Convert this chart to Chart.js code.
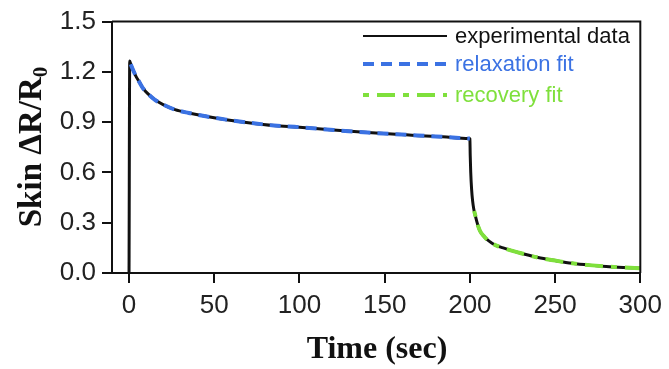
<!DOCTYPE html>
<html>
<head>
<meta charset="utf-8">
<script src="https://cdn.jsdelivr.net/npm/chart.js@4.4.1/dist/chart.umd.min.js"></script>
<style>
  html, body { margin: 0; padding: 0; background: #fff; }
  #wrap { width: 669px; height: 369px; }
</style>
</head>
<body>
<div id="wrap"><canvas id="chart" width="669" height="369"></canvas></div>
<script>
// data
const xTicks = [0, 50, 100, 150, 200, 250, 300];
const yTicks = [0, 0.3, 0.6, 0.9, 1.2, 1.5];

const expTime = [0, 0.4, 1, 2, 4, 6, 8, 11, 15, 20, 27, 35, 45, 57, 70, 85, 100, 120, 140, 160, 180, 199.6,
                 200, 200.2, 200.5, 201, 201.6, 202.3, 203, 204, 205, 206, 208, 210, 213, 216, 220, 225, 230,
                 240, 250, 260, 270, 280, 290, 300];
const expVal  = [0, 1.265, 1.245, 1.22, 1.175, 1.14, 1.105, 1.07, 1.035, 1.005, 0.975, 0.955, 0.935, 0.915, 0.897, 0.88, 0.87, 0.853, 0.838, 0.826, 0.815, 0.803,
                 0.80, 0.70, 0.60, 0.50, 0.43, 0.38, 0.35, 0.31, 0.275, 0.25, 0.222, 0.2, 0.178, 0.162, 0.148, 0.132, 0.118,
                 0.092, 0.074, 0.058, 0.047, 0.039, 0.033, 0.028];

const relaxTime = [1, 2, 4, 6, 8, 11, 15, 20, 27, 35, 45, 57, 70, 85, 100, 120, 140, 160, 180, 200];
const relaxVal  = [1.245, 1.22, 1.175, 1.14, 1.105, 1.07, 1.035, 1.005, 0.975, 0.955, 0.935, 0.915, 0.897, 0.88, 0.87, 0.853, 0.838, 0.826, 0.815, 0.802];

const recTime = [202.5, 203, 204, 205, 206, 208, 210, 213, 216, 220, 225, 230, 240, 250, 260, 270, 280, 290, 300];
const recVal  = [0.37, 0.35, 0.31, 0.275, 0.25, 0.222, 0.2, 0.178, 0.162, 0.148, 0.132, 0.118, 0.092, 0.074, 0.058, 0.047, 0.039, 0.033, 0.028];

const seriesNames = ['experimental data', 'relaxation fit', 'recovery fit'];

const BLACK = '#111111', BLUE = '#3b72e3', GREEN = '#7fe03c';
const pts = (xs, ys) => xs.map((x, i) => ({ x: x, y: ys[i] }));

// frame, legend and the two axis titles
const extras = {
  id: 'extras',
  afterDraw(chart) {
    const ctx = chart.ctx, a = chart.chartArea;
    ctx.save();
    ctx.strokeStyle = BLACK;
    ctx.lineWidth = 2;
    ctx.beginPath();
    ctx.moveTo(a.left, a.top);
    ctx.lineTo(a.right, a.top);
    ctx.lineTo(a.right, a.bottom);
    ctx.stroke();

    // legend
    const items = [
      { y: 36, color: BLACK, dash: [], text: seriesNames[0], tc: BLACK },
      { y: 64, color: BLUE, dash: [11, 7], text: seriesNames[1], tc: BLUE },
      { y: 95, color: GREEN, dash: [6, 8, 18, 8], text: seriesNames[2], tc: GREEN }
    ];
    ctx.font = '22px "Liberation Sans", Arial, sans-serif';
    ctx.textBaseline = 'middle';
    items.forEach(it => {
      ctx.beginPath();
      ctx.setLineDash(it.dash);
      ctx.strokeStyle = it.color;
      ctx.lineWidth = it.dash.length ? 4 : 2;
      ctx.moveTo(363, it.y);
      ctx.lineTo(447, it.y);
      ctx.stroke();
      ctx.fillStyle = it.tc;
      ctx.fillText(it.text, 455, it.y + 1);
    });
    ctx.setLineDash([]);

    // x title
    ctx.fillStyle = BLACK;
    ctx.font = 'bold 32px "Liberation Serif", "Times New Roman", serif';
    ctx.textAlign = 'center';
    ctx.textBaseline = 'alphabetic';
    ctx.fillText('Time (sec)', 377, 358);

    // y title with subscript
    ctx.translate(41, 147);
    ctx.rotate(-Math.PI / 2);
    const main = 'Skin \u0394R/R';
    ctx.font = 'bold 33px "Liberation Serif", "Times New Roman", serif';
    const w1 = ctx.measureText(main).width;
    ctx.font = 'bold 21px "Liberation Serif", "Times New Roman", serif';
    const w2 = ctx.measureText('0').width;
    const x0 = -(w1 + w2) / 2;
    ctx.textAlign = 'left';
    ctx.font = 'bold 33px "Liberation Serif", "Times New Roman", serif';
    ctx.fillText(main, x0, 0);
    ctx.font = 'bold 21px "Liberation Serif", "Times New Roman", serif';
    ctx.fillText('0', x0 + w1, 6);
    ctx.restore();
  }
};

const tickFont = { family: '"Liberation Sans", Arial, sans-serif', size: 26 };

new Chart(document.getElementById('chart'), {
  type: 'line',
  data: {
    datasets: [
      {
        label: seriesNames[1],
        data: pts(relaxTime, relaxVal),
        borderColor: BLUE, borderWidth: 4, borderDash: [11, 7],
        pointRadius: 0, cubicInterpolationMode: 'monotone', order: 1
      },
      {
        label: seriesNames[2],
        data: pts(recTime, recVal),
        borderColor: GREEN, borderWidth: 4, borderDash: [6, 8, 18, 8],
        pointRadius: 0, cubicInterpolationMode: 'monotone', order: 2
      },
      {
        label: seriesNames[0],
        data: pts(expTime, expVal),
        borderColor: BLACK, borderWidth: 3,
        pointRadius: 0, cubicInterpolationMode: 'monotone', order: 3
      }
    ]
  },
  options: {
    responsive: false,
    animation: false,
    layout: { padding: { top: 14, right: 26, left: 0, bottom: 0 } },
    plugins: { legend: { display: false }, tooltip: { enabled: false } },
    scales: {
      x: {
        type: 'linear', min: -10, max: 300,
        afterBuildTicks: s => { s.ticks = xTicks.map(v => ({ value: v })); },
        afterFit: s => { s.height = 96; },
        grid: { drawOnChartArea: false, tickLength: 10, color: BLACK, lineWidth: 2 },
        border: { color: BLACK, width: 2 },
        ticks: { font: tickFont, color: '#222', padding: 7, maxRotation: 0, autoSkip: false }
      },
      y: {
        min: 0, max: 1.5,
        afterBuildTicks: s => { s.ticks = yTicks.map(v => ({ value: v })); },
        afterFit: s => { s.width = 112; },
        grid: { drawOnChartArea: false, tickLength: 10, color: BLACK, lineWidth: 2 },
        border: { color: BLACK, width: 2 },
        ticks: { font: tickFont, color: '#222', padding: 6, callback: v => v.toFixed(1) }
      }
    }
  },
  plugins: [extras]
});
</script>
</body>
</html>
